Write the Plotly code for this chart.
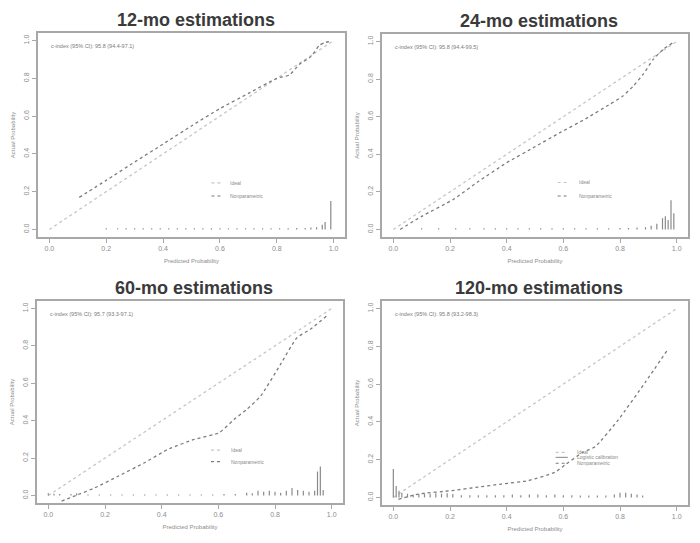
import plotly.graph_objects as go

# ---------------- data ----------------
titles = ["12-mo estimations", "24-mo estimations", "60-mo estimations", "120-mo estimations"]
cindex_texts = [
    "c-index (95% CI): 95.8 (94.4-97.1)",
    "c-index (95% CI): 95.8 (94.4-99.5)",
    "c-index (95% CI): 95.7 (93.3-97.1)",
    "c-index (95% CI): 95.8 (93.2-98.3)",
]
ideal_x = [0.0, 1.0]
ideal_y = [0.0, 1.0]

np12_x = [0.105, 0.20, 0.30, 0.40, 0.50, 0.60, 0.70, 0.80, 0.845, 0.88, 0.92, 0.95, 0.97, 0.99]
np12_y = [0.170, 0.260, 0.357, 0.452, 0.548, 0.640, 0.720, 0.800, 0.818, 0.875, 0.915, 0.975, 0.990, 0.995]

np24_x = [0.024, 0.10, 0.212, 0.30, 0.40, 0.50, 0.588, 0.68, 0.765, 0.81, 0.847, 0.882, 0.918, 0.953, 0.988]
np24_y = [0.000, 0.070, 0.160, 0.255, 0.355, 0.440, 0.515, 0.590, 0.667, 0.710, 0.763, 0.826, 0.906, 0.959, 0.995]

np60_x = [0.047, 0.105, 0.164, 0.246, 0.339, 0.421, 0.515, 0.602, 0.655, 0.70, 0.749, 0.819, 0.877, 0.924, 0.982]
np60_y = [-0.030, 0.005, 0.041, 0.103, 0.175, 0.246, 0.300, 0.335, 0.406, 0.460, 0.531, 0.700, 0.843, 0.888, 0.959]

np120_x = [0.018, 0.088, 0.206, 0.30, 0.382, 0.476, 0.571, 0.61, 0.67, 0.712, 0.794, 0.888, 0.970]
np120_y = [-0.010, 0.018, 0.036, 0.055, 0.071, 0.089, 0.134, 0.177, 0.240, 0.268, 0.411, 0.607, 0.786]

spk12_x = [0.20, 0.24, 0.27, 0.30, 0.33, 0.36, 0.39, 0.42, 0.45, 0.48, 0.51, 0.54, 0.57, 0.60, 0.63,
           0.66, 0.69, 0.72, 0.75, 0.78, 0.81, 0.84, 0.87, 0.90, 0.92, 0.94, 0.96, 0.97, 0.99]
spk12_h = [0.006, 0.006, 0.006, 0.006, 0.006, 0.006, 0.006, 0.006, 0.006, 0.006, 0.006, 0.006, 0.006, 0.006, 0.006,
           0.006, 0.006, 0.006, 0.006, 0.006, 0.006, 0.006, 0.008, 0.008, 0.010, 0.012, 0.025, 0.040, 0.150]

spk24_x = [0.10, 0.16, 0.22, 0.27, 0.32, 0.36, 0.40, 0.44, 0.48, 0.52, 0.56, 0.60, 0.64, 0.68, 0.72,
           0.76, 0.80, 0.83, 0.86, 0.89, 0.91, 0.93, 0.95, 0.96, 0.97, 0.98, 0.99]
spk24_h = [0.006, 0.006, 0.006, 0.006, 0.006, 0.006, 0.006, 0.006, 0.006, 0.006, 0.006, 0.006, 0.006, 0.006, 0.006,
           0.006, 0.008, 0.008, 0.010, 0.012, 0.020, 0.030, 0.060, 0.070, 0.050, 0.155, 0.086]

spk60_x = [0.00, 0.02, 0.04, 0.08, 0.10, 0.14, 0.18, 0.22, 0.26, 0.30, 0.34, 0.38, 0.42, 0.46, 0.50,
           0.54, 0.58, 0.62, 0.66, 0.70, 0.72, 0.74, 0.76, 0.78, 0.80, 0.82, 0.84, 0.86, 0.88, 0.90,
           0.92, 0.94, 0.95, 0.96, 0.97]
spk60_h = [0.012, 0.010, 0.008, 0.008, 0.012, 0.006, 0.006, 0.006, 0.006, 0.006, 0.006, 0.006, 0.006, 0.006, 0.006,
           0.006, 0.006, 0.008, 0.008, 0.015, 0.012, 0.025, 0.020, 0.025, 0.020, 0.015, 0.025, 0.040, 0.030, 0.025,
           0.020, 0.025, 0.128, 0.155, 0.030]

spk120_x = [0.00, 0.01, 0.02, 0.03, 0.05, 0.07, 0.09, 0.11, 0.13, 0.15, 0.17, 0.19, 0.21, 0.24, 0.27,
            0.30, 0.33, 0.36, 0.39, 0.42, 0.45, 0.48, 0.51, 0.54, 0.57, 0.60, 0.63, 0.66, 0.69, 0.72,
            0.75, 0.78, 0.80, 0.82, 0.84, 0.86, 0.88]
spk120_h = [0.150, 0.060, 0.035, 0.025, 0.020, 0.015, 0.018, 0.018, 0.020, 0.022, 0.020, 0.022, 0.018, 0.012, 0.012,
            0.012, 0.012, 0.012, 0.012, 0.015, 0.012, 0.015, 0.015, 0.012, 0.015, 0.012, 0.012, 0.010, 0.010, 0.010,
            0.010, 0.015, 0.025, 0.025, 0.020, 0.015, 0.010]

tick_vals = [0.0, 0.2, 0.4, 0.6, 0.8, 1.0]
tick_text = ["0.0", "0.2", "0.4", "0.6", "0.8", "1.0"]

legend_labels = [
    ["Ideal", "Nonparametric"],
    ["Ideal", "Nonparametric"],
    ["Ideal", "Nonparametric"],
    ["Ideal", "Logistic calibration", "Nonparametric"],
]

# ---------------- styling / layout ----------------
OFF = 8                      # page body margin of the html page
W, H = 700 - 2 * OFF, 543 - 2 * OFF
panels = [
    # (x0px, x1px, ytop_px, ybot_px) in page pixels
    (38, 345, 33, 237),
    (382, 688, 34, 237),
    (37, 343, 301, 503),
    (382, 688, 301, 505),
]
nonpar = [(np12_x, np12_y), (np24_x, np24_y), (np60_x, np60_y), (np120_x, np120_y)]
spikes = [(spk12_x, spk12_h), (spk24_x, spk24_h), (spk60_x, spk60_h), (spk120_x, spk120_h)]
legend_pos = [
    # (sample x0, sample x1, text x, [y per entry])
    (0.57, 0.61, 0.63, [0.247, 0.177]),
    (0.58, 0.62, 0.647, [0.25, 0.178]),
    (0.574, 0.615, 0.638, [0.243, 0.181]),
    (0.573, 0.616, 0.64, [0.239, 0.212, 0.181]),
]

IDEAL_COL = "#c6c6c6"
NP_COL = "#7c7c7c"
SPK_COL = "#8a8a8a"
FRAME_COL = "#a8a8a8"
TXT_COL = "#8c8c8c"
FONT = "Liberation Sans, Arial, sans-serif"


def px_x(p):
    return (p - OFF) / W


def px_y(p):
    return 1 - (p - OFF) / H


fig = go.Figure()
annotations = []
shapes = []

for i in range(4):
    sfx = "" if i == 0 else str(i + 1)
    xa, ya = "x" + sfx, "y" + sfx
    x0, x1, yt, yb = panels[i]
    fig.add_trace(go.Scatter(x=ideal_x, y=ideal_y, mode="lines", xaxis=xa, yaxis=ya,
                             line=dict(color=IDEAL_COL, width=1.3, dash="dot"), showlegend=False))
    nx, ny = nonpar[i]
    fig.add_trace(go.Scatter(x=nx, y=ny, mode="lines", xaxis=xa, yaxis=ya,
                             line=dict(color=NP_COL, width=1.3, dash="3px,3px", shape="spline", smoothing=0.5),
                             showlegend=False))
    sx, sh = spikes[i]
    sxx, syy = [], []
    for xv, hv in zip(sx, sh):
        sxx += [xv, xv, None]
        syy += [0.0, hv, None]
    fig.add_trace(go.Scatter(x=sxx, y=syy, mode="lines", xaxis=xa, yaxis=ya,
                             line=dict(color=SPK_COL, width=1.2), showlegend=False))

    common = dict(range=[-0.04, 1.04], showgrid=False, zeroline=False, showline=True, mirror=True,
                  linecolor=FRAME_COL, linewidth=1.5, ticks="outside", ticklen=4, tickwidth=1,
                  tickcolor=FRAME_COL, tickvals=tick_vals, ticktext=tick_text,
                  tickfont=dict(size=7, color=TXT_COL, family=FONT))
    xaxis = dict(common, domain=[px_x(x0), px_x(x1)], anchor=ya,
                 title=dict(text="Predicted Probability", font=dict(size=6, color=TXT_COL, family=FONT), standoff=8))
    yaxis = dict(common, domain=[px_y(yb), px_y(yt)], anchor=xa, tickangle=-90,
                 title=dict(text="Actual Probability", font=dict(size=6, color=TXT_COL, family=FONT), standoff=7))
    fig.update_layout(**{"xaxis" + sfx: xaxis, "yaxis" + sfx: yaxis})

    annotations.append(dict(text="<b>" + titles[i] + "</b>", xref="paper", yref="paper",
                            x=px_x((x0 + x1) / 2 + 4), y=px_y(yt - 13), showarrow=False,
                            font=dict(size=18, color="#3a3a3a", family=FONT), xanchor="center", yanchor="middle"))
    annotations.append(dict(text=cindex_texts[i], xref=xa, yref=ya, x=0.0, y=0.972, showarrow=False,
                            xanchor="left", yanchor="middle", font=dict(size=5.5, color="#7a7a7a", family=FONT)))
    lx0, lx1, ltx, lys = legend_pos[i]
    for j, lab in enumerate(legend_labels[i]):
        if lab == "Ideal":
            ln = dict(color=IDEAL_COL, width=1.2, dash="dot")
        elif lab == "Nonparametric":
            ln = dict(color=NP_COL, width=1.2, dash="3px,3px")
        else:
            ln = dict(color="#9a9a9a", width=1.2)
        shapes.append(dict(type="line", xref=xa, yref=ya, x0=lx0, x1=lx1, y0=lys[j], y1=lys[j], line=ln))
        annotations.append(dict(text=lab, xref=xa, yref=ya, x=ltx, y=lys[j], showarrow=False,
                                xanchor="left", yanchor="middle", font=dict(size=5, color="#8a8a8a", family=FONT)))

fig.update_layout(width=W, height=H, margin=dict(l=0, r=0, t=0, b=0),
                  paper_bgcolor="white", plot_bgcolor="white",
                  annotations=annotations, shapes=shapes, showlegend=False)

fig.write_html("out.html")
